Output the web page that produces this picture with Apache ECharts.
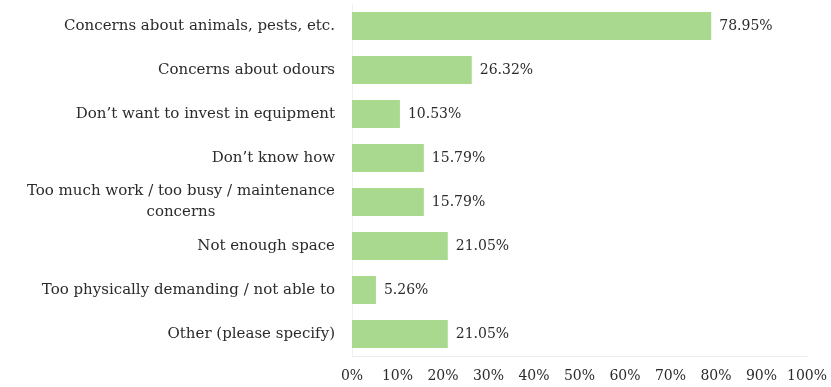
<!DOCTYPE html>
<html>
<head>
<meta charset="utf-8">
<script src="https://cdn.jsdelivr.net/npm/echarts@6/dist/echarts.min.js"></script>
<style>
  html, body { margin: 0; padding: 0; background: #fff; }
  #chart { width: 831px; height: 387px; }
</style>
</head>
<body>
<div id="chart"></div>
<script>
// Reasons given for not composting at home (share of respondents)
const categories = [
  'Concerns about animals, pests, etc.',
  'Concerns about odours',
  'Don\u2019t want to invest in equipment',
  'Don\u2019t know how',
  'Too much work / too busy / maintenance\nconcerns',
  'Not enough space',
  'Too physically demanding / not able to',
  'Other (please specify)'
];
const shares = [78.95, 26.32, 10.53, 15.79, 15.79, 21.05, 5.26, 21.05];
const xTicks = [0, 10, 20, 30, 40, 50, 60, 70, 80, 90, 100];

const FONT = '"DejaVu Serif", serif';
const chart = echarts.init(document.getElementById('chart'), null, { renderer: 'canvas' });

chart.setOption({
  animation: false,
  backgroundColor: '#ffffff',
  grid: { left: 352, right: 24, top: 4, bottom: 31, containLabel: false },
  xAxis: {
    type: 'value',
    min: xTicks[0],
    max: xTicks[xTicks.length - 1],
    interval: 10,
    axisLine: { show: true, lineStyle: { color: '#ececec', width: 1 } },
    axisTick: { show: false },
    splitLine: { show: false },
    axisLabel: {
      margin: 13,
      color: '#2b2b2b',
      fontFamily: FONT,
      fontSize: 14,
      formatter: v => v + '%'
    }
  },
  yAxis: {
    type: 'category',
    data: categories,
    inverse: true,
    axisLine: { show: true, lineStyle: { color: '#f0f0f0' } },
    axisTick: { show: false },
    splitLine: { show: false },
    axisLabel: {
      margin: 17,
      color: '#2b2b2b',
      fontFamily: FONT,
      fontSize: 15,
      lineHeight: 21,
      formatter: v => v.split('\n').map(s => '{c|' + s + '}').join('\n'),
      rich: {
        c: { align: 'center', fontFamily: FONT, fontSize: 15, color: '#2b2b2b', lineHeight: 21 }
      }
    }
  },
  series: [{
    type: 'bar',
    data: shares,
    barWidth: 28,
    itemStyle: { color: '#a9d98f' },
    label: {
      show: true,
      position: 'right',
      distance: 8,
      color: '#2b2b2b',
      fontFamily: FONT,
      fontSize: 14,
      formatter: p => p.value.toFixed(2) + '%'
    }
  }]
});
</script>
</body>
</html>
